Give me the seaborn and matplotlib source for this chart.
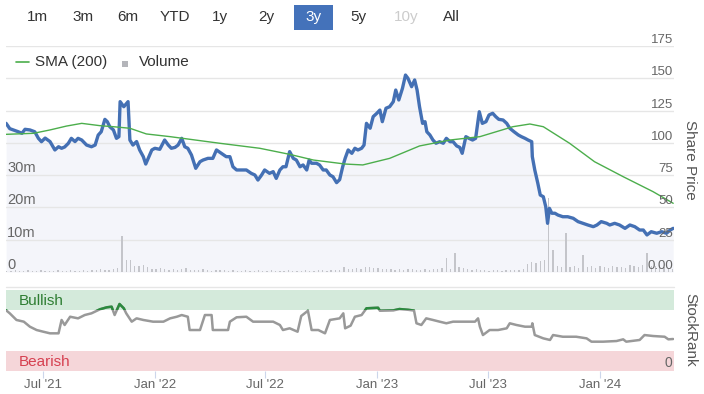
import pandas as pd
import seaborn as sns
import matplotlib.pyplot as plt
import matplotlib.dates as mdates
from matplotlib.lines import Line2D
from matplotlib.patches import Rectangle
from matplotlib.transforms import Bbox, TransformedBbox

# share price
price_dates = [
    '2021-05-02', '2021-05-08', '2021-05-14', '2021-05-22', '2021-05-28', '2021-06-02', '2021-06-10',
    '2021-06-18', '2021-06-24', '2021-06-29', '2021-07-05', '2021-07-13', '2021-07-21', '2021-07-27',
    '2021-08-01', '2021-08-06', '2021-08-12', '2021-08-17', '2021-08-23', '2021-08-28', '2021-09-03',
    '2021-09-11', '2021-09-19', '2021-09-25', '2021-09-30', '2021-10-05', '2021-10-11', '2021-10-15',
    '2021-10-19', '2021-10-25', '2021-10-30', '2021-11-03', '2021-11-05', '2021-11-11', '2021-11-18',
    '2021-11-21', '2021-11-26', '2021-12-02', '2021-12-07', '2021-12-13', '2021-12-17', '2021-12-21',
    '2021-12-27', '2022-01-01', '2022-01-09', '2022-01-17', '2022-01-23', '2022-01-28', '2022-02-03',
    '2022-02-08', '2022-02-14', '2022-02-19', '2022-02-24', '2022-03-02', '2022-03-09', '2022-03-16',
    '2022-03-21', '2022-03-29', '2022-04-06', '2022-04-12', '2022-04-20', '2022-04-28', '2022-05-04',
    '2022-05-09', '2022-05-15', '2022-05-23', '2022-05-31', '2022-06-08', '2022-06-14', '2022-06-19',
    '2022-06-25', '2022-06-30', '2022-07-08', '2022-07-14', '2022-07-19', '2022-07-25', '2022-07-30',
    '2022-08-04', '2022-08-10', '2022-08-16', '2022-08-21', '2022-08-27', '2022-09-01', '2022-09-07',
    '2022-09-11', '2022-09-15', '2022-09-23', '2022-09-28', '2022-10-04', '2022-10-09', '2022-10-15',
    '2022-10-20', '2022-10-26', '2022-10-31', '2022-11-05', '2022-11-09', '2022-11-14', '2022-11-20',
    '2022-11-25', '2022-11-30', '2022-12-06', '2022-12-10', '2022-12-14', '2022-12-20', '2022-12-25',
    '2022-12-31', '2023-01-05', '2023-01-09', '2023-01-15', '2023-01-21', '2023-01-27', '2023-01-31',
    '2023-02-05', '2023-02-11', '2023-02-16', '2023-02-20', '2023-02-26', '2023-03-03', '2023-03-07',
    '2023-03-11', '2023-03-16', '2023-03-20', '2023-03-23', '2023-03-28', '2023-04-02', '2023-04-07',
    '2023-04-13', '2023-04-19', '2023-04-24', '2023-04-30', '2023-05-05', '2023-05-11', '2023-05-16',
    '2023-05-20', '2023-05-26', '2023-05-31', '2023-06-06', '2023-06-11', '2023-06-17', '2023-06-22',
    '2023-06-28', '2023-07-03', '2023-07-09', '2023-07-14', '2023-07-19', '2023-07-26', '2023-08-01',
    '2023-08-06', '2023-08-13', '2023-08-20', '2023-08-25', '2023-08-31', '2023-09-05', '2023-09-11',
    '2023-09-12', '2023-09-16', '2023-09-21', '2023-09-25', '2023-09-30', '2023-10-04', '2023-10-07',
    '2023-10-10', '2023-10-14', '2023-10-19', '2023-10-24', '2023-11-01', '2023-11-09', '2023-11-18',
    '2023-11-26', '2023-12-04', '2023-12-12', '2023-12-21', '2023-12-27', '2024-01-03', '2024-01-12',
    '2024-01-17', '2024-01-25', '2024-02-02', '2024-02-11', '2024-02-19', '2024-02-27', '2024-03-06',
    '2024-03-12', '2024-03-18', '2024-03-25', '2024-04-03', '2024-04-11', '2024-04-19', '2024-04-25',
    '2024-04-30',
]
price_values = [
    115.1, 111.0, 110.0, 108.6, 107.4, 110.5, 110.0,
    108.6, 103.5, 100.9, 103.7, 101.0, 94.5, 97.0,
    95.8, 96.8, 99.6, 103.5, 101.0, 103.5, 102.2,
    98.3, 97.0, 98.3, 106.0, 108.6, 118.2, 116.4,
    112.5, 110.0, 103.5, 104.8, 131.9, 128.0, 131.9,
    102.2, 98.3, 101.0, 94.5, 89.3, 83.6, 88.0,
    94.5, 95.8, 95.0, 102.2, 98.3, 95.8, 96.5,
    98.3, 103.5, 97.0, 95.8, 90.6, 80.3, 85.4,
    86.7, 88.0, 88.0, 94.5, 91.9, 89.3, 89.3,
    81.5, 79.0, 79.0, 79.0, 76.4, 75.1, 71.2,
    75.1, 79.0, 76.4, 77.7, 72.5, 79.0, 81.5,
    81.5, 93.2, 88.0, 86.7, 81.5, 82.9, 79.0,
    86.7, 84.2, 84.2, 82.9, 79.0, 79.0, 75.1,
    73.8, 69.2, 71.5, 81.5, 88.0, 94.5, 91.9,
    95.8, 94.5, 95.8, 98.3, 115.1, 111.3, 120.3,
    122.9, 125.4, 116.4, 126.8, 128.0, 131.9, 140.9,
    133.2, 142.2, 152.5, 150.0, 143.5, 148.7, 140.9,
    128.0, 115.1, 116.4, 108.6, 106.1, 102.2, 99.7,
    100.9, 99.7, 103.5, 100.9, 100.9, 97.6, 96.5,
    91.9, 104.8, 103.5, 102.2, 103.5, 124.1, 115.1,
    116.4, 121.6, 122.9, 120.3, 118.2, 117.7, 115.1,
    111.3, 108.6, 106.1, 104.8, 103.5, 102.2, 100.9,
    89.3, 79.0, 68.7, 59.6, 58.3, 50.6, 37.7,
    49.3, 45.5, 45.5, 44.1, 42.8, 42.8, 41.6,
    39.0, 37.7, 36.4, 35.1, 36.4, 39.0, 37.7,
    36.4, 37.7, 36.4, 33.8, 36.4, 35.1, 32.5,
    32.5, 28.7, 31.2, 30.0, 31.2, 30.0, 32.5,
    33.8,
]

sma_dates = [
    '2021-05-02', '2021-06-16', '2021-07-13', '2021-08-09', '2021-09-03', '2021-10-03', '2021-10-25',
    '2021-11-21', '2021-12-18', '2022-01-26', '2022-04-17', '2022-06-22', '2022-08-10', '2022-09-18',
    '2022-11-09', '2022-12-08', '2023-01-21', '2023-03-11', '2023-04-30', '2023-06-18', '2023-08-11',
    '2023-09-08', '2023-09-30', '2023-11-12', '2023-12-23', '2024-02-08', '2024-03-28', '2024-04-30',
]
sma_values = [
    106.6, 107.4, 110.0, 113.0, 115.1, 113.3, 112.5,
    111.3, 106.9, 104.8, 99.7, 95.8, 91.1, 86.7,
    83.6, 82.9, 88.0, 97.6, 102.2, 104.8, 112.5,
    114.6, 112.5, 99.7, 85.4, 73.8, 62.2, 53.2,
]

# weekly volume (millions) starting from volume_start
volume_start = '2021-05-03'
volume_m = [
    0.4, 0.3, 0.5, 0.3, 0.4, 0.6, 0.3, 0.4, 0.5, 0.3,
    0.4, 0.3, 0.5, 0.4, 0.3, 0.6, 0.4, 0.3, 0.5, 0.4,
    0.6, 0.5, 0.8, 0.6, 0.7, 0.9, 1.2, 11.0, 3.7, 3.8,
    2.0, 1.8, 2.2, 1.5, 1.0, 0.8, 1.2, 0.9, 0.7, 0.8,
    0.6, 0.9, 1.1, 0.7, 0.5, 0.6, 0.8, 0.5, 0.4, 0.6,
    0.5, 0.7, 0.4, 0.5, 0.3, 0.4, 0.6, 0.3, 0.4, 0.5,
    0.3, 0.4, 0.5, 0.3, 0.4, 0.3, 0.5, 0.4, 0.3, 0.4,
    0.5, 0.4, 0.3, 0.5, 0.6, 0.4, 0.5, 0.7, 0.5, 1.6,
    0.8, 1.0, 1.2, 0.9, 1.4, 1.5, 1.1, 1.3, 0.9, 1.0,
    0.8, 0.7, 1.0, 0.6, 0.8, 0.9, 0.7, 0.6, 0.8, 0.7,
    0.9, 1.0, 1.2, 4.2, 1.0, 6.0, 1.5, 1.2, 0.8, 0.6,
    1.0, 0.5, 0.6, 0.4, 0.7, 0.5, 0.4, 0.6, 0.5, 0.7,
    0.6, 0.8, 2.5, 3.0, 2.8, 3.5, 3.8, 22.8, 6.8, 2.0,
    1.5, 12.0, 1.5, 1.8, 1.2, 5.3, 1.4, 1.8, 1.2, 2.0,
    1.6, 1.3, 1.9, 1.5, 1.7, 1.2, 2.1, 1.8, 1.4, 2.2,
    5.9, 2.0, 1.8, 2.2, 1.5, 1.2, 1.0,
]

rank_dates = [
    '2021-05-02', '2021-05-08', '2021-05-19', '2021-05-31', '2021-06-10', '2021-06-21', '2021-07-02',
    '2021-07-13', '2021-07-27', '2021-08-01', '2021-08-06', '2021-08-15', '2021-08-28', '2021-09-08',
    '2021-09-19', '2021-10-03', '2021-10-14', '2021-10-22', '2021-10-27', '2021-11-04', '2021-11-11',
    '2021-11-15', '2021-11-24', '2021-12-02', '2021-12-13', '2021-12-29', '2022-01-15', '2022-01-26',
    '2022-02-06', '2022-02-14', '2022-02-24', '2022-02-27', '2022-03-16', '2022-03-24', '2022-04-04',
    '2022-04-06', '2022-05-01', '2022-05-04', '2022-05-15', '2022-05-31', '2022-06-11', '2022-06-27',
    '2022-07-14', '2022-07-25', '2022-07-30', '2022-08-10', '2022-08-23', '2022-08-29', '2022-09-09',
    '2022-09-15', '2022-09-26', '2022-10-07', '2022-10-15', '2022-10-31', '2022-11-06', '2022-11-09',
    '2022-11-18', '2022-11-25', '2022-12-06', '2022-12-14', '2023-01-02', '2023-01-05', '2023-01-27',
    '2023-02-06', '2023-02-20', '2023-03-02', '2023-03-06', '2023-03-14', '2023-03-22', '2023-04-02',
    '2023-04-13', '2023-04-24', '2023-05-05', '2023-05-16', '2023-05-30', '2023-06-10', '2023-06-15',
    '2023-06-18', '2023-06-23', '2023-07-04', '2023-07-18', '2023-08-01', '2023-08-06', '2023-08-17',
    '2023-08-31', '2023-09-11', '2023-09-12', '2023-09-16', '2023-09-30', '2023-10-11', '2023-10-16',
    '2023-11-01', '2023-11-23', '2023-12-10', '2023-12-18', '2024-01-06', '2024-01-28', '2024-02-08',
    '2024-02-13', '2024-03-06', '2024-03-14', '2024-03-28', '2024-04-16', '2024-04-22', '2024-04-30',
]
rank_values = [
    75.0, 71.2, 63.0, 60.9, 54.7, 50.6, 48.5,
    46.5, 46.5, 63.0, 56.8, 67.0, 65.0, 69.1,
    71.2, 76.2, 78.6, 79.4, 69.1, 82.7, 77.4,
    71.2, 60.9, 65.0, 63.0, 60.9, 60.9, 65.0,
    67.0, 69.1, 67.0, 50.6, 50.6, 69.1, 69.1,
    50.6, 50.6, 60.9, 66.3, 67.0, 60.9, 60.9,
    60.9, 56.8, 50.6, 52.7, 48.5, 67.9, 74.4,
    50.6, 50.6, 46.5, 63.0, 65.0, 71.2, 52.7,
    56.0, 67.0, 69.1, 77.4, 78.1, 74.4, 74.8,
    76.5, 75.6, 74.6, 58.9, 56.8, 65.0, 63.0,
    60.9, 58.9, 60.9, 60.9, 60.9, 60.9, 65.0,
    54.7, 44.4, 50.6, 50.6, 52.7, 58.9, 56.8,
    54.7, 54.7, 58.9, 44.4, 40.3, 38.3, 44.4,
    42.3, 42.3, 40.3, 36.2, 36.2, 37.0, 39.1,
    36.2, 38.3, 44.4, 43.2, 42.3, 39.1, 39.5,
]

price_ticks = [0, 25, 50, 75, 100, 125, 150, 175]
price_labels = ['0.00', '25', '50', '75', '100', '125', '150', '175']
volume_ticks = [0, 10, 20, 30]
volume_labels = ['0', '10m', '20m', '30m']
range_buttons = ['1m', '3m', '6m', 'YTD', '1y', '2y', '3y', '5y', '10y', 'All']
button_x = [37, 83, 128, 175, 220, 266, 314, 358, 406, 451]

price = pd.DataFrame({'date': pd.to_datetime(price_dates), 'price': price_values})
sma = pd.DataFrame({'date': pd.to_datetime(sma_dates), 'sma': sma_values})
rank = pd.DataFrame({'date': pd.to_datetime(rank_dates), 'rank': rank_values})
vol_dates = pd.date_range(volume_start, periods=len(volume_m), freq='7D')

sns.set_theme(style='white')
plt.rcParams['font.family'] = ['Liberation Sans', 'DejaVu Sans']

W, H = 704, 394
BLUE = '#4470b4'
GREEN = '#4cae4c'
GRID = '#e6e6e6'
LABEL = '#666666'
xlim = (pd.Timestamp('2021-05-01 20:00'), pd.Timestamp('2024-05-01 08:00'))

fig = plt.figure(figsize=(7.04, 3.94), dpi=100)

# price panel: fill + grid at the back, volume in the middle, lines on top
ax = fig.add_axes([6 / W, 1 - 272 / H, 668 / W, 226 / H])
ax.fill_between(price['date'], price['price'], 0, color='#f4f5fa', lw=0, zorder=0.2)
ax.set_ylim(0, 175)
ax.set_xlim(*xlim)
ax.set_yticks(price_ticks)
ax.grid(axis='y', color=GRID, lw=1)
for s in ax.spines.values():
    s.set_visible(False)

axv = ax.twinx()
axv.bar(vol_dates, volume_m, width=2.2, color='#c4c5ca', lw=0)
axv.set_ylim(0, 70)
axv.axis('off')

axl = ax.twinx()
sns.lineplot(data=price, x='date', y='price', ax=axl, color=BLUE, lw=2.4, estimator=None)
sns.lineplot(data=sma, x='date', y='sma', ax=axl, color=GREEN, lw=1.0, estimator=None)
axl.set_ylim(0, 175)
axl.set_xlim(*xlim)
axl.axis('off')

# twinx turns the left ticks back on, so switch them off afterwards
ax.tick_params(axis='both', which='both', left=False, right=False, bottom=False, top=False,
               labelleft=False, labelright=False, labelbottom=False)

for v, lab in zip(price_ticks, price_labels):
    axl.annotate(lab, xy=(1, v), xycoords=axl.get_yaxis_transform(), xytext=(-1, 3),
                 textcoords='offset pixels', ha='right', va='baseline', fontsize=9.5,
                 color=LABEL, annotation_clip=False)
for v, lab in zip(volume_ticks, volume_labels):
    axl.annotate(lab, xy=(0, v), xycoords=axv.get_yaxis_transform(), xytext=(1, 3),
                 textcoords='offset pixels', ha='left', va='baseline', fontsize=10.5,
                 color=LABEL, annotation_clip=False)

fig.text(690 / W, 1 - 160 / H, 'Share Price', rotation=270, ha='center', va='center',
         fontsize=11, color='#555555')

# legend
fig.add_artist(Line2D([16 / W, 29 / W], [1 - 62 / H] * 2, color=GREEN, lw=1.2))
fig.text(35 / W, 1 - 62 / H, 'SMA (200)', ha='left', va='center', fontsize=11, color='#333333')
fig.add_artist(Rectangle((122 / W, 1 - 67 / H), 6 / W, 6 / H, color='#b4b5ba', lw=0))
fig.text(139 / W, 1 - 62 / H, 'Volume', ha='left', va='center', fontsize=11, color='#333333')

# range selector
for lab, bx in zip(range_buttons, button_x):
    color = '#333333'
    if lab == '3y':
        fig.add_artist(Rectangle((294 / W, 1 - 30 / H), 39 / W, 25 / H, color='#4472ba', lw=0))
        color = 'white'
    elif lab == '10y':
        color = '#cccccc'
    fig.text(bx / W, 1 - 17 / H, lab, ha='center', va='center', fontsize=11, color=color)

# stockrank panel
fig.add_artist(Line2D([6 / W, 674 / W], [1 - 287 / H] * 2, color=GRID, lw=1))
axr = fig.add_axes([6 / W, 1 - 371 / H, 668 / W, 81 / H])
axr.axhspan(75, 100, color='#d4eadb', lw=0)
axr.axhspan(0, 25, color='#f5d6d9', lw=0)
sns.lineplot(data=rank, x='date', y='rank', ax=axr, color='#999999', lw=1.8, estimator=None)
sns.lineplot(data=rank, x='date', y='rank', ax=axr, color='#2b8a3e', lw=1.8, estimator=None)
axr.lines[-1].set_clip_box(TransformedBbox(Bbox([[0, 0.75], [1, 1]]), axr.transAxes))
axr.set_ylim(0, 100)
axr.set_xlim(*xlim)
axr.set_yticks([])
axr.set_xlabel('')
axr.set_ylabel('')
for s in axr.spines.values():
    s.set_visible(False)
axr.xaxis.set_major_locator(mdates.MonthLocator(bymonth=[1, 7]))
axr.xaxis.set_major_formatter(mdates.DateFormatter("%b '%y"))
axr.tick_params(axis='x', bottom=True, length=5.2, width=0.8, color='#ccd6eb',
                labelsize=9.5, labelcolor=LABEL, pad=0.5)

axr.text(13 / 668, 0.864, 'Bullish', transform=axr.transAxes, ha='left', va='center',
         fontsize=11, color='#2e7d32')
axr.text(13 / 668, 0.111, 'Bearish', transform=axr.transAxes, ha='left', va='center',
         fontsize=11, color='#d64050')
axr.annotate('0', xy=(1, 0), xycoords='axes fraction', xytext=(-2, 4), textcoords='offset pixels',
             ha='right', va='baseline', fontsize=10, color=LABEL)
fig.text(690 / W, 1 - 330 / H, 'StockRank', rotation=270, ha='center', va='center',
         fontsize=11, color='#555555')

fig.savefig('out.png', dpi=100)
